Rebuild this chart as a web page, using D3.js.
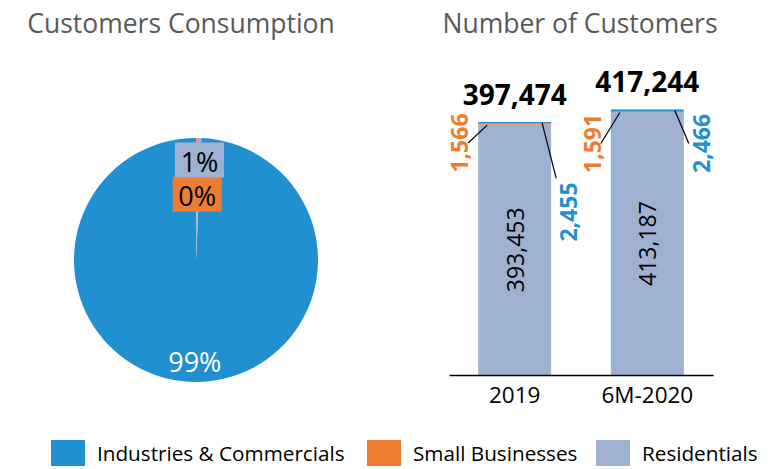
<!DOCTYPE html>
<html>
<head>
<meta charset="utf-8">
<script src="https://cdn.jsdelivr.net/npm/d3@7"></script>
<style>
  body { margin: 0; background: #fff; }
  svg { display: block; font-family: "Open Sans", sans-serif; }
</style>
</head>
<body>
<svg id="chart" width="769" height="469"></svg>
<script>
// segments, legend order
var segments = ["Industries & Commercials", "Small Businesses", "Residentials"];
var colors = ["#2190D0", "#ED7D31", "#9EB1D0"];

// pie: share of consumption (%)
var consumptionShare = [99.3, 0.1, 0.6];
var consumptionLabels = ["99%", "0%", "1%"];

// bars: number of customers
var periods = ["2019", "6M-2020"];
var industries = [2455, 2466];
var smallBiz = [1566, 1591];
var residentials = [393453, 413187];

var svg = d3.select("#chart");
var fmt = d3.format(",");

// titles
svg.append("text").attr("x", 181).attr("y", 33).attr("text-anchor", "middle")
  .attr("font-size", 26.5).attr("fill", "#595959").text("Customers Consumption");
svg.append("text").attr("x", 580).attr("y", 33).attr("text-anchor", "middle")
  .attr("font-size", 26.5).attr("fill", "#595959").text("Number of Customers");

// ---- pie ----
var cx = 196, cy = 260, r = 122;
var total = d3.sum(consumptionShare);
var offset = 2 * Math.PI * (consumptionShare[1] + consumptionShare[2]) / total;
var pieData = d3.pie().sort(null)
  .startAngle(offset).endAngle(offset + 2 * Math.PI)(consumptionShare);
var arc = d3.arc().innerRadius(0).outerRadius(r);

var pieG = svg.append("g").attr("transform", "translate(" + cx + "," + cy + ")");
pieG.selectAll("path").data(pieData).enter().append("path")
  .attr("d", arc)
  .attr("fill", (d, i) => colors[i]);

// label radius as fraction of r (Excel best fit placement)
var labelR = [0.82, 0.54, 0.82];
var boxW = 49, boxH = 35;
pieData.forEach(function (d, i) {
  var a = (d.startAngle + d.endAngle) / 2;
  var lx = Math.sin(a) * r * labelR[i];
  var ly = -Math.cos(a) * r * labelR[i];
  if (i > 0) {
    pieG.append("rect").attr("x", lx - boxW / 2 + 1).attr("y", ly - boxH / 2)
      .attr("width", boxW).attr("height", boxH).attr("fill", colors[i]);
  }
  pieG.append("text").attr("x", lx + 1).attr("y", ly + 1)
    .attr("text-anchor", "middle").attr("dominant-baseline", "central")
    .attr("font-size", i == 0 ? 27 : 27)
    .attr("fill", i == 0 ? "#fff" : "#000")
    .text(consumptionLabels[i]);
});

// ---- stacked bars ----
var rows = periods.map((p, i) => ({
  period: p,
  "Residentials": residentials[i],
  "Small Businesses": smallBiz[i],
  "Industries & Commercials": industries[i]
}));
var stackKeys = ["Residentials", "Small Businesses", "Industries & Commercials"];
var stacked = d3.stack().keys(stackKeys)(rows);

var x = d3.scaleBand().domain(periods).range([449, 713])
  .paddingInner(0.45).paddingOuter(0.22);
var y = d3.scaleLinear().domain([0, 450000]).range([375, 88.6]);

svg.append("g").selectAll("g").data(stacked).enter().append("g")
  .attr("fill", d => colors[segments.indexOf(d.key)])
  .selectAll("rect").data(d => d).enter().append("rect")
  .attr("x", d => x(d.data.period))
  .attr("y", d => y(d[1]))
  .attr("width", x.bandwidth())
  .attr("height", d => Math.max(1, y(d[0]) - y(d[1])));

// x axis
var xAxis = svg.append("g").attr("transform", "translate(0," + y(0) + ")")
  .call(d3.axisBottom(x).tickSize(0).tickPadding(12));
xAxis.select(".domain").attr("stroke", "#000").attr("stroke-width", 1.5);
xAxis.selectAll("text").attr("font-size", 22.5).attr("fill", "#000")
  .attr("font-family", "Open Sans, sans-serif");

// totals
rows.forEach(function (d, i) {
  var tot = residentials[i] + smallBiz[i] + industries[i];
  var mid = x(d.period) + x.bandwidth() / 2;
  svg.append("text").attr("x", mid).attr("y", y(tot) - 17)
    .attr("text-anchor", "middle").attr("font-size", 28).attr("font-weight", "bold")
    .text(fmt(tot));

  // residentials label inside
  var ry = (y(0) + y(residentials[i])) / 2;
  svg.append("text").attr("transform", "translate(" + mid + "," + ry + ") rotate(-90)")
    .attr("text-anchor", "middle").attr("dominant-baseline", "central")
    .attr("font-size", 23).text(fmt(residentials[i]));
});

// small labels beside bars, offsets from bar top in px (manually placed in source)
var orangeDy = [21, 34];
var blueDy = [90, 34];
var blueLeadDy = [-34, 0];

rows.forEach(function (d, i) {
  var left = x(d.period), right = left + x.bandwidth();
  var top = y(residentials[i] + smallBiz[i] + industries[i]);
  var smallMid = y(residentials[i] + smallBiz[i] / 2);

  // small businesses (orange)
  var ox = left - 19, oy = top + orangeDy[i];
  svg.append("text").attr("transform", "translate(" + ox + "," + oy + ") rotate(-90)")
    .attr("text-anchor", "middle").attr("dominant-baseline", "central")
    .attr("font-size", 23).attr("font-weight", "bold").attr("fill", colors[1])
    .text(fmt(smallBiz[i]));
  svg.append("line")
    .attr("x1", ox + 9).attr("y1", oy)
    .attr("x2", left + 9).attr("y2", smallMid + 1)
    .attr("stroke", "#000").attr("stroke-width", 1.2);

  // industries (blue)
  var bx = right + 17, by = top + blueDy[i];
  svg.append("text").attr("transform", "translate(" + bx + "," + by + ") rotate(-90)")
    .attr("text-anchor", "middle").attr("dominant-baseline", "central")
    .attr("font-size", 23).attr("font-weight", "bold").attr("fill", colors[0])
    .text(fmt(industries[i]));
  svg.append("line")
    .attr("x1", right - 9).attr("y1", top + 1)
    .attr("x2", bx - 12).attr("y2", by + blueLeadDy[i])
    .attr("stroke", "#000").attr("stroke-width", 1.2);
});

// ---- legend ----
var legendX = [51, 367, 596];
var legend = svg.append("g").selectAll("g").data(segments).enter().append("g")
  .attr("transform", (d, i) => "translate(" + legendX[i] + ",440)");
legend.append("rect").attr("width", 34).attr("height", 26).attr("fill", (d, i) => colors[i]);
legend.append("text").attr("x", 46).attr("y", 13).attr("dominant-baseline", "central")
  .attr("font-size", 20.7).attr("fill", "#000").text(d => d);
</script>
</body>
</html>
